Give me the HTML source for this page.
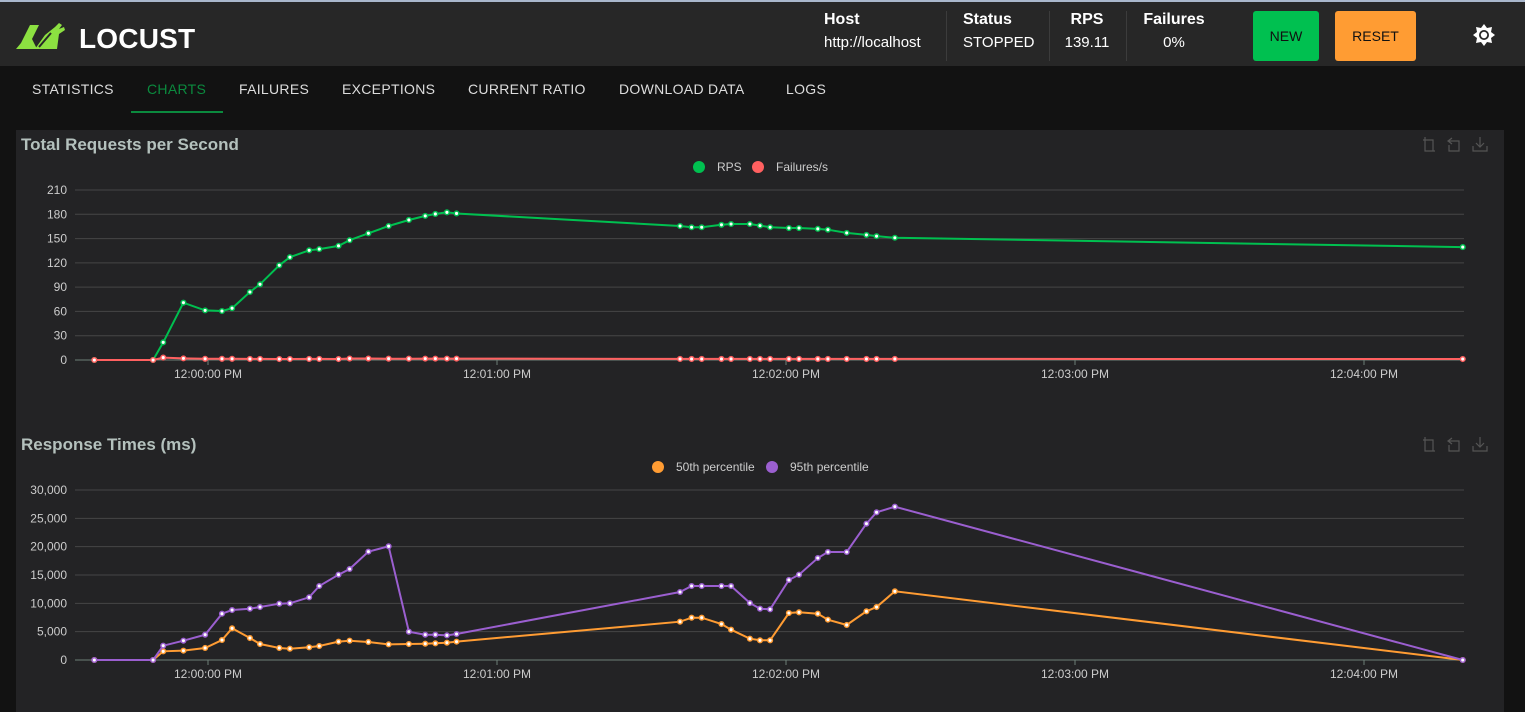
<!DOCTYPE html>
<html><head><meta charset="utf-8"><style>
body{margin:0;width:1525px;height:712px;overflow:hidden;background:#121212;font-family:"Liberation Sans",sans-serif;color:#fff}
#hdr{position:absolute;left:0;top:0;width:1525px;height:66px;background:#272727;border-top:2px solid #a9b7cc;box-sizing:border-box}
.stat{position:absolute;top:9px;text-align:center;font-size:15px}
.stat b{display:block;font-size:16px;margin-bottom:5px}
.sep{position:absolute;top:9px;width:1px;height:50px;background:#3c3c3c}
.btn{position:absolute;top:9px;height:50px;border-radius:3px;color:#111;font-size:14px;display:flex;align-items:center;justify-content:center}
#tabs{position:absolute;top:66px;left:0;width:1525px;height:48px}
.tab{position:absolute;top:15px;font-size:14px;color:#ddd;letter-spacing:.3px}
#panel{position:absolute;left:16px;top:130px;width:1488px;height:582px;background:#232325}
</style></head><body>
<div id="hdr">
 <svg style="position:absolute;left:15px;top:19px" width="55" height="30"><path d="M1 28 L6 22 L15 4 L24 4 L17 18 L22 28 Z M20 28 L30 14 L40 6 L44 2 L47 4 L44 8 L49 6 L50 9 L44 13 L42 28 Z" fill="#8ce041"/><path d="M24 26 L36 12" stroke="#272727" stroke-width="2"/></svg>
 <div style="position:absolute;left:79px;top:21px;font-size:28px;font-weight:bold;letter-spacing:0.2px">LOCUST</div>
 <div class="stat" style="left:824px;text-align:left"><b>Host</b>http://localhost</div>
 <div class="sep" style="left:946px"></div>
 <div class="stat" style="left:963px;text-align:left"><b>Status</b>STOPPED</div>
 <div class="sep" style="left:1049px"></div>
 <div class="stat" style="left:1064px;width:46px"><b>RPS</b>139.11</div>
 <div class="sep" style="left:1126px"></div>
 <div class="stat" style="left:1140px;width:68px"><b>Failures</b>0%</div>
 <div class="btn" style="left:1253px;width:66px;background:#00c050">NEW</div>
 <div class="btn" style="left:1335px;width:81px;background:#ff9c33">RESET</div>
 <svg style="position:absolute;left:1473px;top:22px" width="22" height="22"><polygon points="11,0 14,4 19,3 18,8 22,11 18,14 19,19 14,18 11,22 8,18 3,19 4,14 0,11 4,8 3,3 8,4" fill="#fff"/><circle cx="11" cy="11" r="5" fill="#272727"/><circle cx="11" cy="11" r="3.2" fill="#fff"/></svg>
</div>
<div id="tabs">
 <div class="tab" style="left:32px">STATISTICS</div>
 <div class="tab" style="left:147px;color:#0b8a3e">CHARTS</div>
 <div style="position:absolute;left:131px;top:45px;width:92px;height:2px;background:#0b8a3e"></div>
 <div class="tab" style="left:239px">FAILURES</div>
 <div class="tab" style="left:342px">EXCEPTIONS</div>
 <div class="tab" style="left:468px">CURRENT RATIO</div>
 <div class="tab" style="left:619px">DOWNLOAD DATA</div>
 <div class="tab" style="left:786px">LOGS</div>
</div>
<div id="panel"></div>
<svg id="charts" style="position:absolute;left:0;top:0" width="1525" height="712"></svg>
<script>
const times=[-23.6,-11.4,-9.3,-5.1,-0.6,2.9,5.0,8.7,10.8,14.8,17.0,21.0,23.1,27.1,29.4,33.3,37.5,41.7,45.1,47.2,49.6,51.6,98.0,100.4,102.5,106.6,108.6,112.5,114.6,116.7,120.6,122.7,126.6,128.7,132.6,136.7,138.8,142.6,260.5];
const rps=[0,0,21.8,70.8,61.3,60.5,64,84,93.5,117,127,135.5,137,141,148,156.5,165.5,173,178,180.4,182.4,181,165.5,164,164,167,168,168,166,164,163,163,162,161,157,154.5,153,151,139.5];
const failures=[0,0,3,2,1.5,1.5,1.5,1.3,1.3,1.2,1.2,1.3,1.3,1.2,1.8,1.8,1.6,1.6,1.7,1.7,1.7,1.7,1.3,1.3,1.3,1.3,1.3,1.3,1.3,1.3,1.3,1.3,1.3,1.3,1.3,1.3,1.3,1.3,1.2];
const p50=[0,0,1530,1650,2120,3530,5590,3880,2820,2120,2000,2240,2470,3240,3410,3180,2760,2820,2880,2940,3060,3240,6760,7470,7470,6350,5350,3760,3470,3470,8290,8410,8170,7120,6180,8590,9350,12120,0];
const p95=[0,0,2530,3410,4470,8170,8820,9060,9350,9940,10000,11060,13060,15060,16060,19120,20060,5000,4470,4470,4350,4590,12000,13060,13060,13060,13060,10060,9060,8940,14120,15060,18000,19060,19060,24060,26060,27060,0];
const xTickSecs=[0,60,120,180,240];
const xTickLabels=["12:00:00 PM","12:01:00 PM","12:02:00 PM","12:03:00 PM","12:04:00 PM"];
const rpsTicks=[0,30,60,90,120,150,180,210];
const rtTicks=[0,5000,10000,15000,20000,25000,30000];
const rtTickLabels=["0","5,000","10,000","15,000","20,000","25,000","30,000"];

const NS="http://www.w3.org/2000/svg";
const svg=document.getElementById('charts');
function mk(tag,attrs,parent){const e=document.createElementNS(NS,tag);for(const k in attrs)e.setAttribute(k,attrs[k]);(parent||svg).appendChild(e);return e;}
function xScale(s){return 208+s*(289/60);}

function drawChart(cfg){
  const g=mk('g',{});
  
  
  const y=v=>cfg.y0-(v/cfg.max)*(cfg.y0-cfg.y1);
  const t=mk('text',{x:21,y:cfg.titleY,fill:'#b4c1bd','font-size':17,'font-weight':'bold'},g);t.textContent=cfg.title;
  
  
  [1428,1454,1480].forEach((x,i)=>{
    const ic=mk('g',{stroke:'#555',fill:'none','stroke-width':1.2},g);
    
    
    const yy=cfg.titleY-6;
    if(i==0){mk('path',{d:`M${x-5} ${yy-4}h10v11M${x-3} ${yy-7}v14h10`},ic);}
    else if(i==1){mk('path',{d:`M${x-2} ${yy-6}l-4 3l4 3M${x-5} ${yy-3}h10v10h-10v-6`},ic);}
    else{mk('path',{d:`M${x} ${yy-7}v10M${x-4} ${yy-1}l4 4l4-4M${x-7} ${yy+2}v5h14v-5`},ic);}
  });
  cfg.ticks.forEach((v,i)=>{
    const yy=y(v);
    if(v!==0){const l=mk('line',{x1:75,x2:1464,y1:yy,y2:yy,stroke:'#464646','stroke-width':1},g);
    
    }
    const tx=mk('text',{x:67,y:yy+4,fill:'#ccc','font-size':12,'text-anchor':'end'},g);tx.textContent=cfg.tickLabels[i];
    
    
  });
  const ax=mk('line',{x1:75,x2:1464,y1:cfg.y0,y2:cfg.y0,stroke:'#6e7f78'},g);
  
  
  xTickSecs.forEach((s,i)=>{
    const x=xScale(s);
    mk('line',{x1:x,x2:x,y1:cfg.y0,y2:cfg.y0+5,stroke:'#6e7f78'},g);
    const tx=mk('text',{x:x,y:cfg.y0+18,fill:'#ccc','font-size':12,'text-anchor':'middle'},g);tx.textContent=xTickLabels[i];
    
    
  });
  cfg.series.forEach(se=>{
    const lg=mk('g',{},g);
    
    
    mk('circle',{cx:se.lx,cy:cfg.legendY,r:6,fill:se.color},lg);
    const lt=mk('text',{x:se.lx+18,y:cfg.legendY+4,fill:'#ccc','font-size':12},lg);lt.textContent=se.label;
    const pts=times.map((s,i)=>xScale(s).toFixed(1)+','+y(se.data[i]).toFixed(1)).join(' ');
    const pl=mk('polyline',{points:pts,fill:'none',stroke:se.color,'stroke-width':2},g);
    
    
    times.forEach((s,i)=>{
      const c=mk('circle',{cx:xScale(s),cy:y(se.data[i]),r:2.3,fill:'#fff',stroke:se.color,'stroke-width':1.5},g);
      
      
    });
  });
}
drawChart({name:'requests-per-second-chart',title:'Total Requests per Second',titleY:150,legendY:167,y0:360,y1:190,max:210,ticks:rpsTicks,tickLabels:rpsTicks.map(String),
  series:[{name:'rps',label:'RPS',color:'#00c050',lx:699,data:rps},{name:'failures',label:'Failures/s',color:'#ff6060',lx:758,data:failures}]});
drawChart({name:'response-times-chart',title:'Response Times (ms)',titleY:450,legendY:467,y0:660,y1:490,max:30000,ticks:rtTicks,tickLabels:rtTickLabels,
  series:[{name:'p50',label:'50th percentile',color:'#ff9c33',lx:658,data:p50},{name:'p95',label:'95th percentile',color:'#9b5fd0',lx:772,data:p95}]});
</script>
</body></html>
